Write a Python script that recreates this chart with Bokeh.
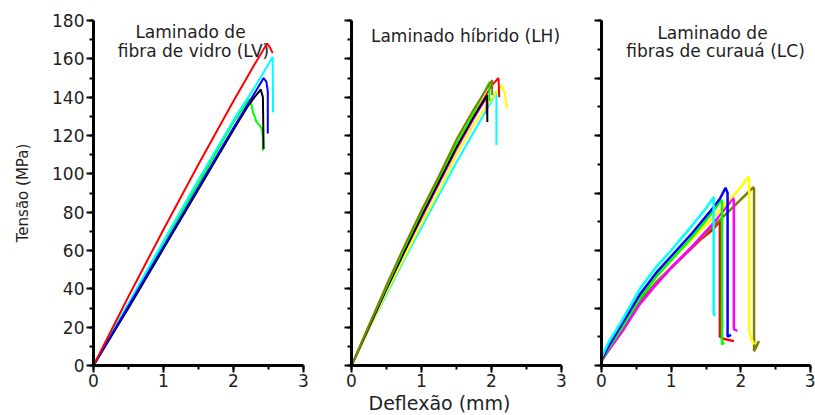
from bokeh.plotting import figure
from bokeh.layouts import row
from bokeh.models import Range1d, SingleIntervalTicker, Label, Title, CustomJSTickFormatter
from bokeh.embed import file_html
from bokeh.resources import INLINE

FONT = "DejaVu Sans"
TXT = "#1e1e1e"

# ---------------- data: Laminado de fibra de vidro (LV) ----------------
lv_green_x = [0, 0.5, 1.0, 1.5, 2.0, 2.22, 2.25, 2.28, 2.33, 2.38, 2.41, 2.42, 2.42]
lv_green_y = [0, 32, 64, 95, 127, 139, 137, 132, 127, 125, 123, 118, 112]
lv_cyan_x = [0, 0.5, 1.0, 1.5, 2.0, 2.3, 2.56, 2.565]
lv_cyan_y = [0, 32.5, 65, 97, 128, 145, 161, 132]
lv_black_x = [0, 0.5, 1.0, 1.5, 2.0, 2.2, 2.3, 2.39, 2.42, 2.43]
lv_black_y = [0, 30, 61, 92, 123, 135, 140, 144, 140, 113]
lv_blue_x = [0, 0.5, 1.0, 1.5, 2.0, 2.2, 2.35, 2.43, 2.47, 2.49, 2.49]
lv_blue_y = [0, 31, 62, 93, 124, 136, 145, 150, 148, 143, 121]
lv_red_x = [0, 0.5, 1.0, 1.5, 2.0, 2.3, 2.48, 2.52, 2.56]
lv_red_y = [0, 36, 71, 105, 138, 157, 168, 166, 163]

# ---------------- data: Laminado hibrido (LH) ----------------
lh_cyan_x = [0, 0.25, 0.5, 0.75, 1.0, 1.25, 1.5, 1.75, 2.0, 2.07, 2.07]
lh_cyan_y = [0, 19, 37, 55, 72, 89, 106, 122, 138, 143, 115]
lh_yellow_x = [0, 0.25, 0.5, 0.75, 1.0, 1.25, 1.5, 1.75, 2.0, 2.15, 2.19, 2.22]
lh_yellow_y = [0, 19, 38, 56, 74, 91, 110, 126, 139, 146, 142, 134]
lh_red_x = [0, 0.25, 0.5, 0.75, 1.0, 1.25, 1.5, 1.75, 2.0, 2.05, 2.10, 2.11]
lh_red_y = [0, 20, 40, 59, 77, 95, 113, 130, 146, 148, 150, 140]
lh_magenta_x = [0, 0.25, 0.5, 0.75, 1.0, 1.25, 1.5, 1.75, 1.93, 1.93]
lh_magenta_y = [0, 20, 40, 59, 77, 95, 113, 129, 140, 131]
lh_black_x = [0, 0.25, 0.5, 0.75, 1.0, 1.25, 1.5, 1.75, 1.94, 1.94]
lh_black_y = [0, 20, 40, 59, 78, 96, 114, 130, 141, 127]
lh_green_x = [0, 0.25, 0.5, 0.75, 1.0, 1.25, 1.5, 1.75, 1.97, 1.97]
lh_green_y = [0, 21, 41, 61, 80, 98, 116, 132, 148, 138]
lh_olive_x = [0, 0.25, 0.5, 0.75, 1.0, 1.25, 1.5, 1.75, 2.01, 2.01]
lh_olive_y = [0, 21, 42, 62, 81, 99, 118, 134, 149, 141]

# ---------------- data: Laminado de fibras de curaua (LC) ----------------
lc_red_x = [0, 0.1, 0.3, 0.56, 0.8, 1.0, 1.2, 1.42, 1.6, 1.70, 1.70, 1.75, 1.90]
lc_red_y = [3, 8, 18, 33.5, 43, 51, 58, 65.7, 71, 75.5, 15, 14, 12.7]
lc_olive_x = [0, 0.1, 0.3, 0.56, 0.8, 1.0, 1.3, 1.6, 1.9, 2.18, 2.19, 2.19, 2.26]
lc_olive_y = [2, 8, 19, 34, 44, 51, 62, 72.5, 83, 93, 92, 7.5, 12.7]
lc_magenta_x = [0, 0.1, 0.3, 0.55, 0.8, 1.0, 1.3, 1.6, 1.8, 1.89, 1.90, 1.90, 1.95]
lc_magenta_y = [3, 8, 18, 32, 43, 51, 62, 74, 83, 87.5, 86, 19, 18]
lc_yellow_x = [0, 0.1, 0.3, 0.55, 0.8, 1.0, 1.3, 1.6, 1.85, 2.0, 2.11, 2.12, 2.12, 2.15, 2.19]
lc_yellow_y = [3, 10, 21, 36, 47, 55, 66, 77, 87, 93, 98.5, 97, 18, 14, 11]
lc_green_x = [0, 0.1, 0.3, 0.55, 0.8, 1.0, 1.3, 1.55, 1.71, 1.73, 1.73, 1.76]
lc_green_y = [3, 9, 20, 35, 47, 55, 67, 78, 86, 86, 11, 12]
lc_blue_x = [0, 0.1, 0.3, 0.55, 0.8, 1.0, 1.3, 1.55, 1.7, 1.78, 1.81, 1.81, 1.86]
lc_blue_y = [3, 10, 22, 37, 49, 57, 69, 80, 87, 92.7, 90, 15, 16]
lc_cyan_x = [0, 0.1, 0.27, 0.56, 0.8, 1.0, 1.13, 1.3, 1.5, 1.61, 1.61, 1.63]
lc_cyan_y = [4, 12, 22, 40.5, 52, 60, 65.7, 73, 82, 88, 27, 26]

x_label = "Deflexão (mm)"
y_label = "Tensão (MPa)"
lv_title = ["Laminado de", "fibra de vidro (LV)"]
lh_title = ["Laminado híbrido (LH)"]
lc_title = ["Laminado de", "fibras de curauá (LC)"]

lv_series = [("#00ff00", lv_green_x, lv_green_y), ("#00ffff", lv_cyan_x, lv_cyan_y),
             ("#000000", lv_black_x, lv_black_y), ("#0000ff", lv_blue_x, lv_blue_y),
             ("#ff0000", lv_red_x, lv_red_y)]
lh_series = [("#00ffff", lh_cyan_x, lh_cyan_y), ("#ffff00", lh_yellow_x, lh_yellow_y),
             ("#ff0000", lh_red_x, lh_red_y), ("#ff00ff", lh_magenta_x, lh_magenta_y),
             ("#000000", lh_black_x, lh_black_y), ("#00ff00", lh_green_x, lh_green_y),
             ("#808000", lh_olive_x, lh_olive_y)]
lc_series = [("#ff0000", lc_red_x, lc_red_y), ("#808000", lc_olive_x, lc_olive_y),
             ("#ff00ff", lc_magenta_x, lc_magenta_y), ("#ffff00", lc_yellow_x, lc_yellow_y),
             ("#00ff00", lc_green_x, lc_green_y), ("#0000ff", lc_blue_x, lc_blue_y),
             ("#00ffff", lc_cyan_x, lc_cyan_y)]

H = 415


def make_fig(width, bl, br, y_interval, show_y_labels):
    p = figure(width=width, height=H, x_range=Range1d(0, 3), y_range=Range1d(0, 180),
               output_backend="svg", toolbar_location=None,
               min_border_left=bl, min_border_right=br, min_border_top=20, min_border_bottom=50)
    p.outline_line_color = None
    p.grid.visible = False
    p.background_fill_color = "white"
    p.border_fill_color = "white"
    p.xaxis.ticker = SingleIntervalTicker(interval=1, num_minor_ticks=2)
    p.yaxis.ticker = SingleIntervalTicker(interval=y_interval, num_minor_ticks=2)
    for ax in p.axis:
        ax.axis_line_width = 3
        ax.axis_line_color = "black"
        ax.major_tick_line_width = 2
        ax.minor_tick_line_width = 2
        ax.major_tick_out = 7
        ax.major_tick_in = 0
        ax.minor_tick_out = 4
        ax.minor_tick_in = 0
        ax.major_label_text_font = FONT
        ax.major_label_text_font_size = "17px"
        ax.major_label_text_color = TXT
    p.xaxis.major_label_standoff = 1
    p.yaxis.major_label_standoff = 2
    if not show_y_labels:
        p.yaxis.formatter = CustomJSTickFormatter(code="return ''")
        p.yaxis.major_label_standoff = 0
    return p


def add_text(p, x, y, txt, size="17px", level="underlay"):
    p.add_layout(Label(x=x, y=y, x_units="canvas", y_units="canvas", text=txt,
                       text_font=FONT, text_font_size=size, text_align="center",
                       text_baseline="middle", text_color=TXT, level=level))


p1 = make_fig(327, 93, 24, 20, True)
p1.yaxis.axis_label = y_label
p1.yaxis.axis_label_text_font = FONT
p1.yaxis.axis_label_text_font_size = "15px"
p1.yaxis.axis_label_text_font_style = "normal"
p1.yaxis.axis_label_text_color = TXT
p1.yaxis.axis_label_standoff = 17
add_text(p1, 190, 31, lv_title[0])
add_text(p1, 193, 50, lv_title[1])
for c, xs, ys in lv_series:
    p1.line(xs, ys, line_color=c, line_width=2)

p2 = make_fig(260, 24, 26, 20, False)
add_text(p2, 138, 35, lh_title[0])
for c, xs, ys in lh_series:
    p2.line(xs, ys, line_color=c, line_width=2)
p2.add_layout(Title(text=x_label, align="left", offset=17, standoff=0,
                    text_font=FONT, text_font_size="19px", text_font_style="normal",
                    text_color=TXT), "below")

p3 = make_fig(228, 14, 5, 30, False)
add_text(p3, 125, 32, lc_title[0])
add_text(p3, 128, 50, lc_title[1])
for c, xs, ys in lc_series:
    p3.line(xs, ys, line_color=c, line_width=2.5)

layout = row(p1, p2, p3, spacing=0)
open("out.html", "w").write(file_html(layout, INLINE))
